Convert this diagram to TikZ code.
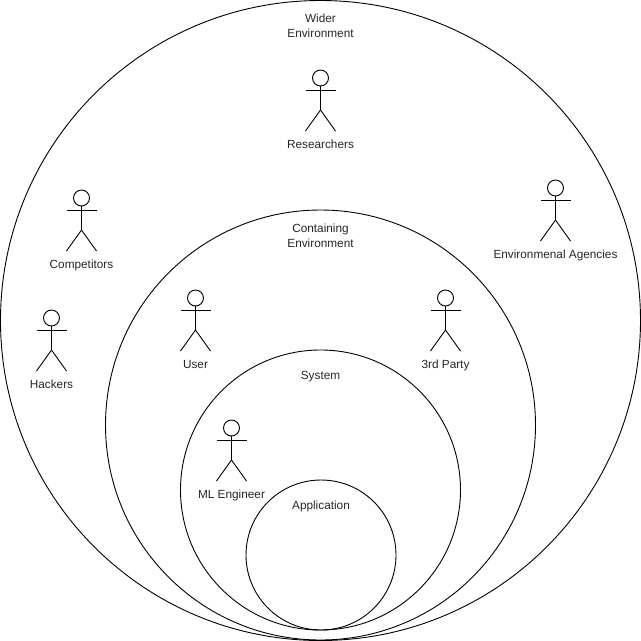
\documentclass[tikz,border=0pt]{standalone}
\usepackage{fontspec}
\setmainfont{Liberation Sans}
\tikzstyle{ring} = [circle, draw, inner sep=0pt]
\tikzstyle{head} = [circle, draw, inner sep=0pt, minimum size=16]
\tikzstyle{label} = [align=center, font=\fontsize{11.8}{15}\selectfont, text=black!85, inner sep=0pt,
    text height=8.6pt, text depth=2.6pt]
% one stick figure, (0,0) is the centre of the head
\tikzset{actor/.pic={
      \node [head] (head) at (0, 0) {};
      \coordinate (hip) at (0, 32);
      \coordinate (armL) at (-15, 12);
      \coordinate (armR) at (15, 12);
      \coordinate (footL) at (-15, 53);
      \coordinate (footR) at (15, 53);
      \draw (head) -- (hip);
      \draw (armL) -- (armR);
      \draw (footL) -- (hip) -- (footR);
      \node [label] (name) at (0, 67.3) {\tikzpictext};
}}

\begin{document}
\begin{tikzpicture}[x=1pt, y=-1pt, line width=0.9pt]
      \useasboundingbox (0, 0) rectangle (641, 641);
      \node [ring, minimum size=640] (wider) at (320.5, 320.5) {};
      \node [ring, minimum size=430] (containing) at (320.5, 425) {};
      \node [ring, minimum size=280] (system) at (320.5, 490) {};
      \node [ring, minimum size=150] (application) at (321, 555) {};
      \node [label] (widerText) at (320.5, 34.2) {Wider\\Environment};
      \node [label] (containingText) at (320.5, 244.2) {Containing\\Environment};
      \node [label] (systemText) at (320.5, 376) {System};
      \node [label] (applicationText) at (321, 506) {Application};
      \pic (researchers) at (320.5, 78) [pic text=Researchers] {actor};
      \pic (competitors) at (81.5, 198) [pic text=Competitors] {actor};
      \pic (hackers) at (51.5, 318) [pic text=Hackers] {actor};
      \pic (user) at (195.5, 298) [pic text=User] {actor};
      \pic (party) at (445.5, 298) [pic text=3rd Party] {actor};
      \pic (engineer) at (231.5, 428) [pic text=ML Engineer] {actor};
      \pic (agencies) at (555.5, 188) [pic text=Environmenal Agencies] {actor};
\end{tikzpicture}
\end{document}
